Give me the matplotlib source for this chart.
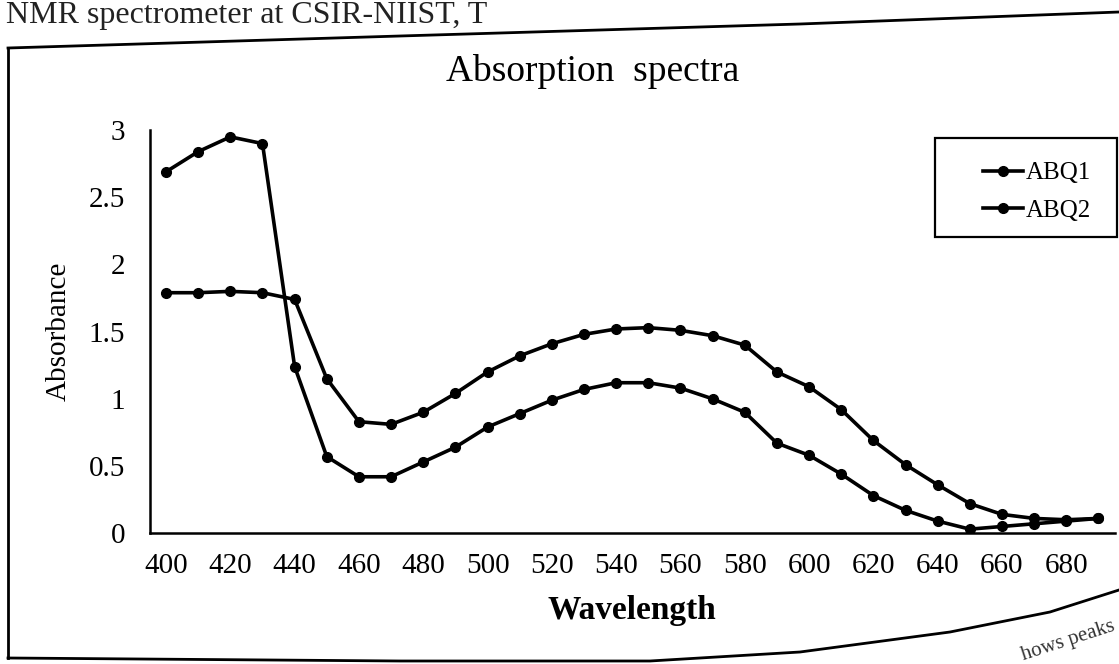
import matplotlib.pyplot as plt
from matplotlib.lines import Line2D

# wavelength (nm), one reading every 10 nm
wavelength = list(range(400, 700, 10))

abq1 = [2.69, 2.84, 2.95, 2.90, 1.24, 0.57, 0.42, 0.42, 0.53, 0.64,
        0.79, 0.89, 0.99, 1.07, 1.12, 1.12, 1.08, 1.00, 0.90, 0.67,
        0.58, 0.44, 0.28, 0.17, 0.09, 0.03, 0.05, 0.07, 0.09, 0.11]

abq2 = [1.79, 1.79, 1.80, 1.79, 1.74, 1.15, 0.83, 0.81, 0.90, 1.04,
        1.20, 1.32, 1.41, 1.48, 1.52, 1.53, 1.51, 1.47, 1.40, 1.20,
        1.09, 0.92, 0.69, 0.51, 0.36, 0.22, 0.14, 0.11, 0.10, 0.11]

x_ticks = list(range(400, 700, 20))
y_ticks = [0, 0.5, 1, 1.5, 2, 2.5, 3]
y_labels = ['0', '0.5', '1', '1.5', '2', '2.5', '3']

plt.rcParams['font.family'] = ['Liberation Serif', 'DejaVu Serif']

W, H = 1119, 664
fig = plt.figure(figsize=(W / 100, H / 100), dpi=100)
ax = fig.add_axes([0.134, 0.197, 0.862, 0.607])

ax.plot(wavelength, abq1, color='black', lw=2.6, marker='o', ms=7, label='ABQ1')
ax.plot(wavelength, abq2, color='black', lw=2.6, marker='o', ms=7, label='ABQ2')

ax.set_xlim(395, 695)
ax.set_ylim(0, 3)
ax.set_xticks(x_ticks)
ax.set_yticks(y_ticks)
ax.set_yticklabels(y_labels)
ax.tick_params(length=0, labelsize=21, pad=14)
ax.tick_params(axis='y', pad=18)
for s in ['top', 'right']:
    ax.spines[s].set_visible(False)
for s in ['left', 'bottom']:
    ax.spines[s].set_linewidth(1.8)

ax.set_xlabel('Wavelength', fontsize=24, fontweight='bold', labelpad=12)
ax.set_ylabel('Absorbance', fontsize=21, labelpad=12)

fig.text(0.53, 0.893, 'Absorption  spectra', fontsize=27, ha='center', va='center')

# legend box drawn by hand (wide empty margin on the left, like the original)
fig.add_artist(plt.Rectangle((935 / W, 1 - 237 / H), 182 / W, 99 / H,
                             transform=fig.transFigure, fill=False,
                             edgecolor='black', lw=1.6))
fig.legend(loc='upper right', bbox_to_anchor=(0.995, 0.79), fontsize=18,
           frameon=False, handlelength=1.6, labelspacing=0.6, handletextpad=0.1)


def page_line(pts, lw=2):
    xs = [p[0] / W for p in pts]
    ys = [1 - p[1] / H for p in pts]
    fig.add_artist(Line2D(xs, ys, transform=fig.transFigure, color='black', lw=lw))


# chart area border, bent like the photographed page
page_line([(8, 48), (400, 36), (800, 24), (1119, 12)])
page_line([(8, 48), (8, 658)])
page_line([(8, 658), (400, 661), (650, 661), (800, 652), (950, 632), (1050, 612), (1119, 590)])

fig.text(0.005, 0.999, 'NMR spectrometer at CSIR-NIIST, T', fontsize=23, va='top',
         color='#222222')
fig.text(0.955, 0.035, 'hows peaks', fontsize=15, rotation=18, ha='center', va='center',
         color='#333333')

fig.savefig('out.png', dpi=100)
